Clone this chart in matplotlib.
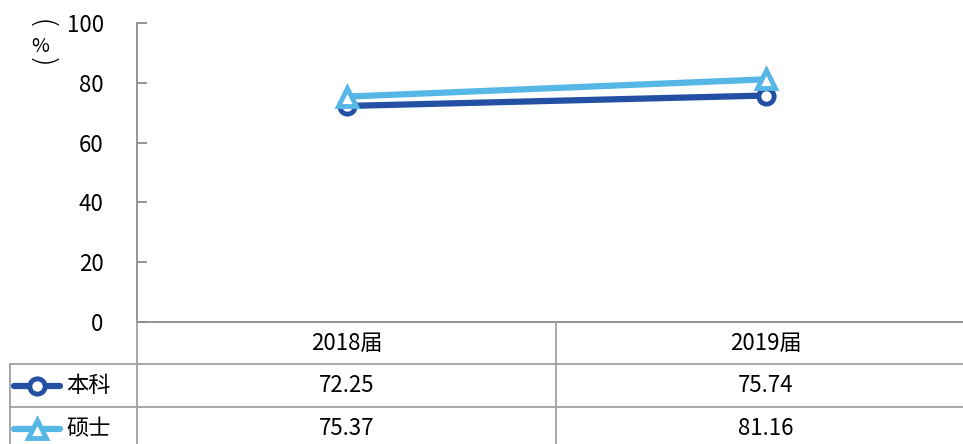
import matplotlib
matplotlib.use("Agg")
import matplotlib.pyplot as plt
from matplotlib.lines import Line2D

plt.rcParams['font.family'] = ['Noto Sans CJK SC', 'DejaVu Sans']

categories = ["2018届", "2019届"]
series_names = ["本科", "硕士"]
benke = [72.25, 75.74]
shuoshi = [75.37, 81.16]
yticks = [0, 20, 40, 60, 80, 100]

colors = ["#2350a3", "#56b7e6"]
markers = ["o", "^"]
series = [benke, shuoshi]

W, H = 963, 444
fig = plt.figure(figsize=(W / 100, H / 100), dpi=100)

def fx(px):
    return px / W

def fy(py):
    return 1 - py / H

FS = 16

ax_left, ax_right, ax_top, ax_bot = 137, 975, 23, 322
ax = fig.add_axes([fx(ax_left), fy(ax_bot), fx(ax_right - ax_left), (ax_bot - ax_top) / H])
x = list(range(len(categories)))
for vals, c, m in zip(series, colors, markers):
    ax.plot(x, vals, color=c, lw=4.5, marker=m, ms=11 if m == "o" else 13,
            mfc="white", mec=c, mew=3.5, solid_capstyle="round", zorder=3)
ax.set_xlim(-0.5, len(categories) - 0.5)
ax.set_ylim(0, 100)
ax.set_yticks(yticks)
ax.set_yticklabels([str(t) for t in yticks], fontsize=FS)
ax.tick_params(axis="y", direction="in", length=7, width=1.3, color="#8c8c8c", pad=24)
ax.set_xticks([])
for s in ["top", "right"]:
    ax.spines[s].set_visible(False)
ax.spines["left"].set_color("#8c8c8c")
ax.spines["left"].set_linewidth(1.3)
ax.spines["bottom"].set_color("#8c8c8c")
ax.spines["bottom"].set_linewidth(1.3)
ax.set_facecolor("none")

# y label stacked vertically
fig.text(fx(40), fy(25), "(", rotation=270, ha="center", va="center", fontsize=22,
         family="DejaVu Sans", fontweight="light")
fig.text(fx(40), fy(46), "%", ha="center", va="center", fontsize=14)
fig.text(fx(40), fy(63), ")", rotation=270, ha="center", va="center", fontsize=22,
         family="DejaVu Sans", fontweight="light")

# data table
gc = "#a0a0a0"
lw = 1.3
row_y = [322, 364, 407, 450]
col_x = [10, 137, 556, 975]

def hline(y, x0, x1):
    fig.add_artist(Line2D([fx(x0), fx(x1)], [fy(y), fy(y)], color=gc, lw=lw))

def vline(x0, y0, y1):
    fig.add_artist(Line2D([fx(x0), fx(x0)], [fy(y0), fy(y1)], color=gc, lw=lw))

hline(row_y[1], col_x[0], col_x[3])
hline(row_y[2], col_x[0], col_x[3])
vline(col_x[0], row_y[1], row_y[3])
vline(col_x[1], row_y[0], row_y[3])
vline(col_x[2], row_y[0], row_y[3])

for j, cat in enumerate(categories):
    cx = (col_x[j + 1] + col_x[j + 2]) / 2
    fig.text(fx(cx), fy((row_y[0] + row_y[1]) / 2), cat, ha="center", va="center", fontsize=FS)

for i, (name, vals, c, m) in enumerate(zip(series_names, series, colors, markers)):
    cy = (row_y[i + 1] + row_y[i + 2]) / 2
    fig.add_artist(Line2D([fx(14), fx(60)], [fy(cy), fy(cy)], color=c, lw=4.5,
                          solid_capstyle="round"))
    fig.add_artist(Line2D([fx(37)], [fy(cy)], color=c, marker=m,
                          ms=11 if m == "o" else 13, mfc="white", mec=c, mew=3.5, lw=0))
    fig.text(fx(66), fy(cy), name, ha="left", va="center", fontsize=FS)
    for j, v in enumerate(vals):
        cx = (col_x[j + 1] + col_x[j + 2]) / 2
        fig.text(fx(cx), fy(cy), f"{v:.2f}", ha="center", va="center", fontsize=FS)

fig.savefig("out.png", dpi=100)
